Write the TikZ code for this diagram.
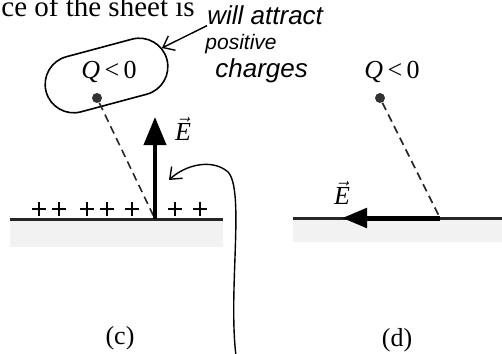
\documentclass[tikz,border=0pt]{standalone}
\usepackage{fontspec}
\setmainfont{Liberation Serif}
\newfontfamily\handfont{Liberation Sans}
\usetikzlibrary{arrows.meta,shapes.misc}

\begin{document}
\begin{tikzpicture}[x=0.5pt, y=-0.5pt,
  sheet/.style={black!85, line width=1.5pt},
  stipple/.style={fill=black!5},
  field/.style={black, line width=2pt, -{Triangle[length=14pt,width=11pt]}},
  fieldflat/.style={black, line width=2.5pt, -{Triangle[length=12.5pt,width=9.5pt]}},
  guide/.style={black!85, line width=0.8pt, dash pattern=on 4pt off 2.5pt},
  charge/.style={circle, fill=black!80, minimum size=5pt, inner sep=0pt},
  hand/.style={black, line width=0.7pt, -{Straight Barb[length=5pt,width=8pt]}},
  plus/.style={black, line width=0.8pt},
  label/.style={inner sep=0pt, font=\fontsize{13}{15}\selectfont},
  note/.style={inner sep=0pt, anchor=base west, font=\handfont\itshape}]
\useasboundingbox (0,0) rectangle (502,353);
\node[anchor=base west, inner sep=0pt, font=\fontsize{14.5}{17}\selectfont] (head) at (1,17) {ce of the sheet is};
\fill[stipple] (10,219) rectangle (223,247);
\fill[stipple] (293,218) rectangle (502,242);
\draw[sheet] (10,219) -- (223,219);
\draw[sheet] (293,218) -- (502,218);
\node[draw, rounded rectangle, rotate=15, minimum width=62.5pt, minimum height=28.5pt, inner sep=0pt, line width=0.8pt] (blob) at (106.5,75.5) {};
\node[label] (qc) at (109,72) {\textit{Q}\,<\,0};
\node[charge] (dotc) at (97,98) {};
\coordinate (basec) at (155,219);
\coordinate (tipc) at (155,117);
\draw[guide] (dotc) -- (basec);
\draw[field] (basec) -- (tipc);
\node[label] (ec) at (183,129) {$\vec{\mbox{\itshape E}}$};
\foreach \px in {39,59,87,107,132,175,200}
  \draw[plus] (\px-7,209) -- (\px+7,209) (\px,202) -- (\px,216);
\node[label] (pc) at (120,338) {(c)};
\node[note, font=\handfont\itshape\fontsize{13}{15}\selectfont] (note1) at (207,25) {will attract};
\node[note, font=\handfont\itshape\fontsize{10.5}{12}\selectfont] (note2) at (205,50) {positive};
\node[note, font=\handfont\itshape\fontsize{13}{15}\selectfont] (note3) at (215,77) {charges};
\draw[hand] (note1.south west) -- (blob);
\coordinate (curlstart) at (236,356);
\coordinate (curlend) at (169,180);
\draw[hand] (curlstart) .. controls (228,290) and (245,190) .. (228,172) .. controls (212,158) and (185,165) .. (curlend);
\node[label] (qd) at (392,72) {\textit{Q}\,<\,0};
\node[charge] (dotd) at (380,98) {};
\coordinate (based) at (440,218);
\coordinate (tipd) at (342,218);
\draw[guide] (dotd) -- (based);
\draw[fieldflat] (based) -- (tipd);
\node[label] (ed) at (342,193) {$\vec{\mbox{\itshape E}}$};
\node[label] (pd) at (397,340) {(d)};
\end{tikzpicture}
\end{document}
